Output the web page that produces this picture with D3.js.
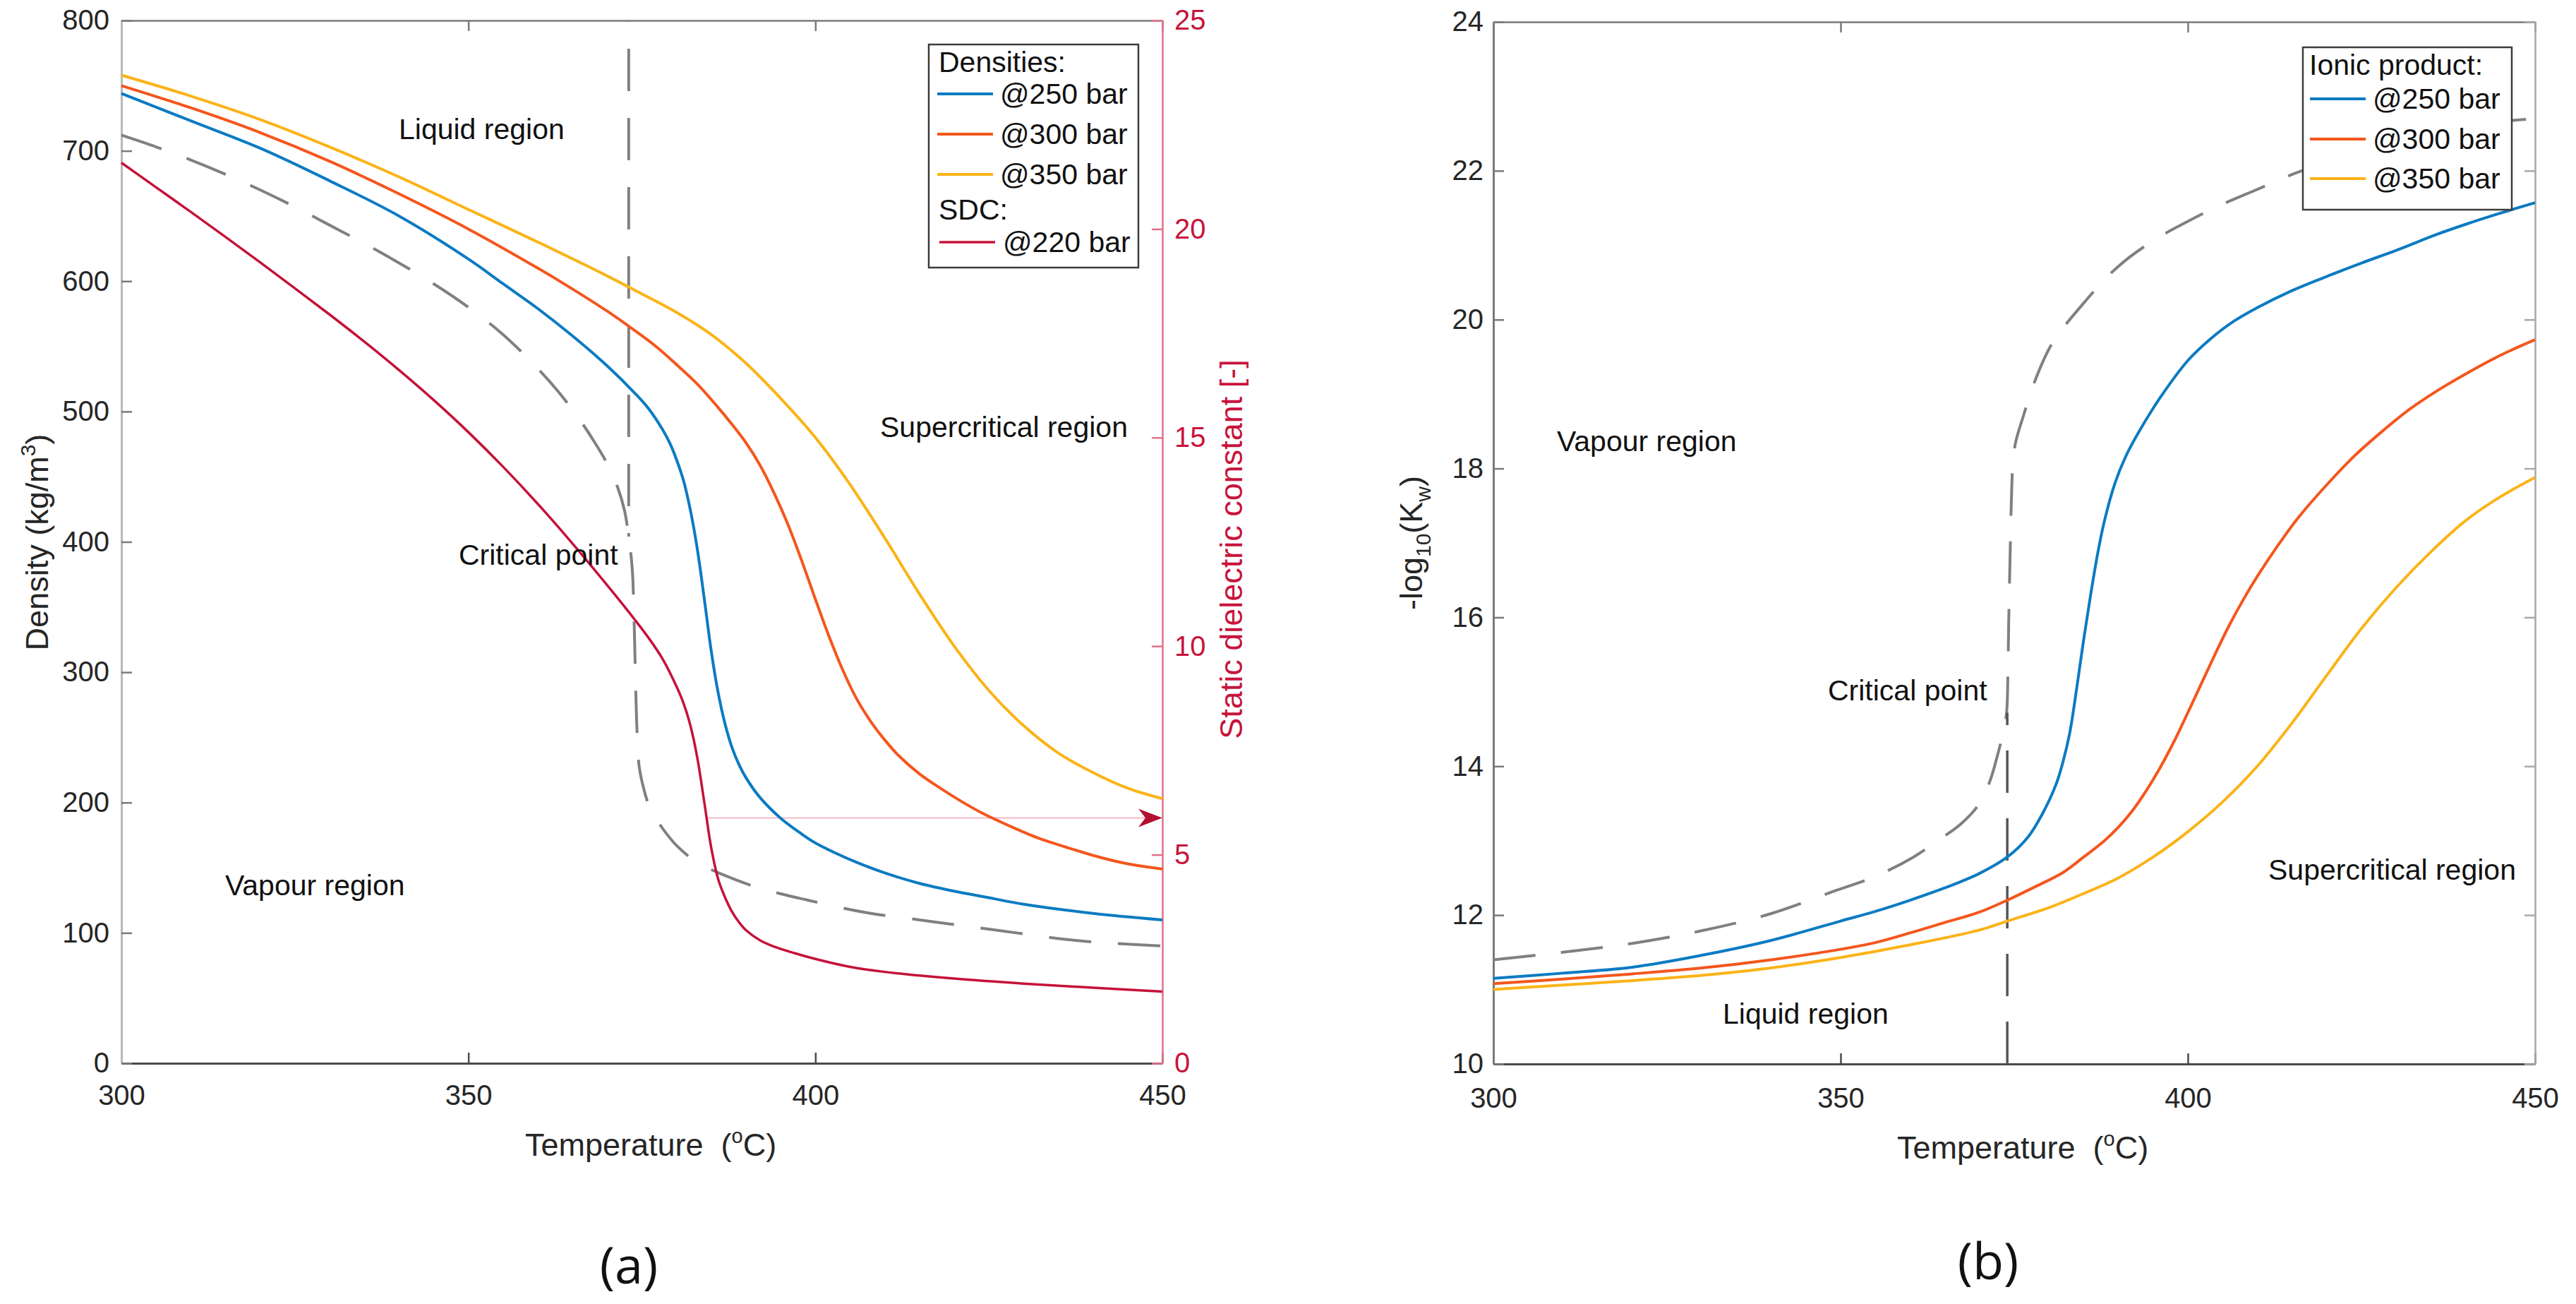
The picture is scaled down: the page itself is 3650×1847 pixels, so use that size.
<!DOCTYPE html>
<html><head><meta charset="utf-8">
<script src="https://cdn.jsdelivr.net/npm/d3@7/dist/d3.min.js"></script>
<style>
body{margin:0;background:#fff}
svg{display:block}
text{font-family:"Liberation Sans",Arial,Helvetica,sans-serif}
</style>
</head><body>
<svg id="c" width="3650" height="1847"></svg>
<script>
// ---------------- DATA ----------------
const tempTicks = [300, 350, 400, 450];
const densityTicks = [0, 100, 200, 300, 400, 500, 600, 700, 800];
const sdcTicks = [0, 5, 10, 15, 20, 25];
const pkwTicks = [10, 12, 14, 16, 18, 20, 22, 24];

// (a) densities [T (°C), rho (kg/m3)]
const density250 = [[300,744],[310,723],[320,702],[330,677],[340,650],[350,617],[355,598],[360,579],[365,558],[370,535],[374,514],[376,502],[378,486],[379,476],[380,463],[381,447],[382,424],[383,394],[384,356],[385,316],[386,284],[387,260],[388,242],[389,229],[390,219],[392,204],[395,188],[398,176],[400,169],[403,161],[406,154],[410,146],[415,138],[420,132],[425,127],[430,122],[440,115],[450,110]];
const density300 = [[300,750],[310,733],[320,714],[330,692],[340,667],[350,640],[360,610],[365,594],[370,577],[374,562],[377,550],[380,536],[383,521],[386,503],[388,490],[390,476],[392,459],[394,438],[396,414],[398,386],[400,356],[402,327],[404,301],[406,279],[408,262],[410,248],[412,236],[415,222],[418,211],[421,201],[424,192],[428,182],[432,173],[436,166],[441,158],[445,153],[450,149]];
const density350 = [[300,758],[310,742],[320,724],[330,703],[340,680],[350,655],[360,630],[370,604],[374,593],[380,576],[385,559],[390,537],[395,510],[400,480],[405,444],[410,403],[415,360],[420,320],[425,286],[430,259],[435,238],[440,223],[445,211],[450,203]];
const densityCritical = [[300,712],[305,703],[310,693],[315,682],[320,670],[325,657],[330,643],[335,629],[340,614],[345,598],[350,580],[355,559],[360,533],[363,515],[366,494],[368,478],[370,460],[371.5,442],[372.5,424],[373.1,404],[373.6,380],[373.9,335],[374.1,290],[374.3,255],[374.6,228],[375.2,212],[376,198],[377,188],[378,180],[380,167],[383,154],[387,144],[391,136],[395,130],[399,125],[404,119],[408,115],[415,110],[422,105],[429,100],[436,95],[443,92],[450,90]];
// (a) static dielectric constant @220 bar [T, SDC]
const sdc220 = [[300,21.59],[305,21.0],[310,20.41],[315,19.81],[320,19.2],[325,18.58],[330,17.95],[335,17.3],[340,16.62],[345,15.9],[350,15.13],[355,14.3],[360,13.41],[365,12.46],[370,11.46],[374,10.63],[376,10.19],[378,9.69],[380,9.03],[381,8.63],[382,8.09],[383,7.31],[384,6.25],[385,5.16],[386,4.41],[387,3.97],[388,3.63],[389,3.38],[390,3.19],[392,2.95],[394,2.8],[397,2.64],[400,2.5],[405,2.31],[410,2.19],[420,2.03],[430,1.91],[440,1.81],[450,1.72]];
const criticalTempA = 373.1;
const criticalLineA = [800, 404];       // density span of the vertical critical line
const arrowSDC = 5.88;                  // arrow level (SDC axis)
const arrowStartT = 384.35;

// (b) ionic product [T, -log10(Kw)]
const pkw250 = [[300,11.15],[310,11.22],[320,11.3],[330,11.46],[340,11.66],[350,11.92],[355,12.05],[360,12.2],[366,12.4],[370,12.56],[374,12.78],[377,13.05],[379,13.35],[381,13.75],[382,14.05],[383,14.45],[384,15.05],[385,15.7],[386,16.3],[387,16.85],[388,17.3],[389.5,17.8],[391,18.15],[393,18.5],[396,18.95],[400,19.45],[403,19.72],[406,19.94],[410,20.16],[415,20.39],[420,20.58],[425,20.76],[430,20.93],[436,21.15],[440,21.28],[445,21.43],[450,21.57]];
const pkw300 = [[300,11.08],[310,11.14],[320,11.21],[330,11.29],[340,11.4],[350,11.54],[355,11.63],[360,11.76],[365,11.9],[370,12.04],[374,12.2],[378,12.38],[382,12.57],[385,12.78],[388,13.0],[390,13.18],[392,13.4],[394,13.67],[396,13.98],[398,14.33],[400,14.72],[402,15.12],[404,15.52],[406,15.9],[408,16.24],[410,16.55],[413,16.97],[416,17.35],[420,17.78],[424,18.17],[428,18.5],[432,18.8],[436,19.05],[440,19.27],[445,19.52],[450,19.73]];
const pkw350 = [[300,11.0],[310,11.06],[320,11.12],[330,11.19],[340,11.29],[350,11.43],[360,11.6],[370,11.8],[374,11.92],[380,12.1],[385,12.29],[390,12.5],[395,12.78],[400,13.12],[405,13.52],[410,14.0],[415,14.58],[420,15.22],[425,15.85],[430,16.4],[435,16.88],[440,17.3],[445,17.62],[450,17.88]];
const pkwCritical = [[300,11.4],[310,11.5],[320,11.62],[330,11.79],[340,12.02],[349,12.32],[355,12.52],[360.5,12.78],[364,13.0],[367.5,13.24],[370,13.5],[371.5,13.8],[372.6,14.15],[373.4,14.45],[373.9,14.72],[374.1,15.3],[374.2,15.9],[374.4,16.8],[374.6,17.6],[374.8,18.05],[375.2,18.35],[376.3,18.7],[378,19.18],[380.4,19.67],[384.8,20.2],[389.8,20.7],[395,21.06],[400,21.32],[405,21.55],[410,21.75],[415,21.95],[420,22.12],[425,22.3],[430,22.42],[435,22.52],[440,22.6],[445,22.66],[450,22.7]];
const criticalTempB = 374.0;
const criticalLineB = [10, 14.72];

const legendA = ["@250 bar", "@300 bar", "@350 bar"];
const legendA2 = ["@220 bar"];
const legendB = ["@250 bar", "@300 bar", "@350 bar"];

// ---------------- STYLE ----------------
const C = {blue:"#0b7bc2", orange:"#f4561d", yellow:"#fbb317", red:"#c5123a", grey:"#808080",
           axis:"#7a7a7a", axisDark:"#4a4a4a", text:"#262626", redAxis:"#e07188", redText:"#c8143c"};

const svg = d3.select("#c");
svg.append("rect").attr("width",3650).attr("height",1847).attr("fill","#fff");

function styleAxis(g, col, tcol, w){
  g.selectAll(".domain").attr("stroke", col).attr("stroke-width", w);
  g.selectAll(".tick line").attr("stroke", col).attr("stroke-width", 2.5);
  g.selectAll(".tick text").attr("fill", tcol).style("font-size","40px")
   .style("font-family",'"Liberation Sans",Arial,sans-serif');
  g.attr("font-family", null).attr("font-size", null);
}
function lineGen(x, y){ return d3.line().x(d=>x(d[0])).y(d=>y(d[1])).curve(d3.curveCatmullRom.alpha(0.5)); }
function addText(t, x, y, size, opts={}){
  return svg.append("text").attr("x",x).attr("y",y).attr("font-size",size)
    .attr("fill", opts.fill||"#111").attr("dominant-baseline", opts.db||"central")
    .attr("text-anchor", opts.anchor||"start").text(t);
}

// ================= PANEL (a) =================
const xA = d3.scaleLinear().domain([300,450]).range([172,1647]);
const yA = d3.scaleLinear().domain([0,800]).range([1506,29]);
const yA2 = d3.scaleLinear().domain([0,25]).range([1506,29]);

let g;
g = svg.append("g").attr("transform","translate(0,1506)")
  .call(d3.axisBottom(xA).tickValues(tempTicks).tickSize(-15).tickSizeOuter(0).tickPadding(31).tickFormat(d3.format("d")));
styleAxis(g, C.axisDark, C.text, 3);
g = svg.append("g").attr("transform","translate(0,29)")
  .call(d3.axisTop(xA).tickValues(tempTicks).tickSize(-15).tickSizeOuter(0).tickFormat(""));
styleAxis(g, C.axis, C.text, 2.5);
g = svg.append("g").attr("transform","translate(172,0)")
  .call(d3.axisLeft(yA).tickValues(densityTicks).tickSize(-15).tickSizeOuter(0).tickPadding(17).tickFormat(d3.format("d")));
styleAxis(g, "#b8b8b8", C.text, 3);
g.selectAll(".tick line").attr("stroke", C.axis);
g = svg.append("g").attr("transform","translate(1647,0)")
  .call(d3.axisRight(yA2).tickValues(sdcTicks).tickSize(-15).tickSizeOuter(0).tickPadding(17).tickFormat(d3.format("d")));
styleAxis(g, C.redAxis, C.redText, 2.5);

const lA = lineGen(xA, yA);
svg.append("path").datum(densityCritical).attr("d", lA).attr("fill","none")
  .attr("stroke", C.grey).attr("stroke-width",4).attr("stroke-dasharray","60,38");
svg.append("line").attr("x1",xA(criticalTempA)).attr("x2",xA(criticalTempA))
  .attr("y1",yA(criticalLineA[0])).attr("y2",yA(criticalLineA[1]))
  .attr("stroke", C.grey).attr("stroke-width",4).attr("stroke-dasharray","60,38").attr("stroke-dashoffset",-40);
svg.append("line").attr("x1",xA(arrowStartT)).attr("x2",xA(450)-20)
  .attr("y1",yA2(arrowSDC)).attr("y2",yA2(arrowSDC)).attr("stroke","#f6b9c6").attr("stroke-width",2);
{
  const tx = xA(450), ty = yA2(arrowSDC);
  svg.append("path").attr("d",`M${tx},${ty} L${tx-34},${ty-13} L${tx-24},${ty} L${tx-34},${ty+13} Z`).attr("fill","#b3102f");
}
const seriesA = [[density250,C.blue],[density300,C.orange],[density350,C.yellow]];
seriesA.forEach(([d,c])=>{
  svg.append("path").datum(d).attr("d", lA).attr("fill","none").attr("stroke",c).attr("stroke-width",4);
});
svg.append("path").datum(sdc220).attr("d", lineGen(xA, yA2)).attr("fill","none").attr("stroke",C.red).attr("stroke-width",3.5);

addText("Liquid region", 565, 183, 41);
addText("Supercritical region", 1247, 605, 41);
addText("Critical point", 650, 786, 41);
addText("Vapour region", 319, 1254, 41);

{
  const t = svg.append("text").attr("x",922).attr("y",1637).attr("font-size",45).attr("fill",C.text)
    .attr("text-anchor","middle").style("white-space","pre");
  t.append("tspan").text("Temperature  (");
  t.append("tspan").attr("dy",-18).attr("font-size",29).text("o");
  t.append("tspan").attr("dy",18).text("C)");
  const yl = svg.append("text").attr("transform","translate(68,768) rotate(-90)").attr("font-size",45)
    .attr("fill",C.text).attr("text-anchor","middle");
  yl.append("tspan").text("Density (kg/m");
  yl.append("tspan").attr("dy",-18).attr("font-size",30).text("3");
  yl.append("tspan").attr("dy",18).text(")");
  svg.append("text").attr("transform","translate(1760,778) rotate(-90)").attr("font-size",45)
    .attr("fill",C.redText).attr("text-anchor","middle").text("Static dielectric constant [-]");
  svg.append("text").attr("x",891).attr("y",1818).attr("font-size",72).attr("fill","#111")
    .attr("text-anchor","middle").style("font-family",'"Open Sans","Liberation Sans",sans-serif').text("(a)");
}

{
  svg.append("rect").attr("x",1316).attr("y",63).attr("width",297).attr("height",316)
    .attr("fill","#fff").attr("stroke","#3c3c3c").attr("stroke-width",2.5);
  addText("Densities:", 1330, 88, 41);
  const rows = [133,190,247];
  legendA.forEach((lab,i)=>{
    svg.append("line").attr("x1",1328).attr("x2",1407).attr("y1",rows[i]).attr("y2",rows[i])
      .attr("stroke",seriesA[i][1]).attr("stroke-width",4);
    addText(lab, 1417, rows[i], 41);
  });
  addText("SDC:", 1330, 297, 41);
  svg.append("line").attr("x1",1331).attr("x2",1410).attr("y1",343).attr("y2",343)
    .attr("stroke",C.red).attr("stroke-width",3.5);
  addText(legendA2[0], 1421, 343, 41);
}

// ================= PANEL (b) =================
const xB = d3.scaleLinear().domain([300,450]).range([2116,3592]);
const yB = d3.scaleLinear().domain([10,24]).range([1507,31]);

g = svg.append("g").attr("transform","translate(0,1507)")
  .call(d3.axisBottom(xB).tickValues(tempTicks).tickSize(-15).tickSizeOuter(0).tickPadding(34).tickFormat(d3.format("d")));
styleAxis(g, C.axisDark, C.text, 3);
g = svg.append("g").attr("transform","translate(0,31)")
  .call(d3.axisTop(xB).tickValues(tempTicks).tickSize(-15).tickSizeOuter(0).tickFormat(""));
styleAxis(g, C.axis, C.text, 2.5);
g = svg.append("g").attr("transform","translate(2116,0)")
  .call(d3.axisLeft(yB).tickValues(pkwTicks).tickSize(-15).tickSizeOuter(0).tickPadding(14).tickFormat(d3.format("d")));
styleAxis(g, C.axis, C.text, 3);
g = svg.append("g").attr("transform","translate(3592,0)")
  .call(d3.axisRight(yB).tickValues(pkwTicks).tickSize(-15).tickSizeOuter(0).tickFormat(""));
styleAxis(g, "#a8a8a8", C.text, 2.5);

const lB = lineGen(xB, yB);
svg.append("path").datum(pkwCritical).attr("d", lB).attr("fill","none")
  .attr("stroke", C.grey).attr("stroke-width",4).attr("stroke-dasharray","60,36");
svg.append("line").attr("x1",xB(criticalTempB)).attr("x2",xB(criticalTempB))
  .attr("y1",yB(criticalLineB[0])).attr("y2",yB(criticalLineB[1]))
  .attr("stroke", "#555").attr("stroke-width",3.5).attr("stroke-dasharray","60,36");
const seriesB = [[pkw250,C.blue],[pkw300,C.orange],[pkw350,C.yellow]];
seriesB.forEach(([d,c])=>{
  svg.append("path").datum(d).attr("d", lB).attr("fill","none").attr("stroke",c).attr("stroke-width",4);
});

addText("Vapour region", 2206, 625, 41);
addText("Critical point", 2590, 978, 41);
addText("Supercritical region", 3214, 1232, 41);
addText("Liquid region", 2441, 1436, 41);

{
  const t = svg.append("text").attr("x",2866).attr("y",1641).attr("font-size",45).attr("fill",C.text)
    .attr("text-anchor","middle").style("white-space","pre");
  t.append("tspan").text("Temperature  (");
  t.append("tspan").attr("dy",-18).attr("font-size",29).text("o");
  t.append("tspan").attr("dy",18).text("C)");
  const yl = svg.append("text").attr("transform","translate(2015,769) rotate(-90)").attr("font-size",45)
    .attr("fill",C.text).attr("text-anchor","middle");
  yl.append("tspan").text("-log");
  yl.append("tspan").attr("dy",12).attr("font-size",30).text("10");
  yl.append("tspan").attr("dy",-12).text("(K");
  yl.append("tspan").attr("dy",12).attr("font-size",30).text("w");
  yl.append("tspan").attr("dy",-12).text(")");
  svg.append("text").attr("x",2817).attr("y",1812).attr("font-size",72).attr("fill","#111")
    .attr("text-anchor","middle").style("font-family",'"Open Sans","Liberation Sans",sans-serif').text("(b)");
}

{
  svg.append("rect").attr("x",3263).attr("y",67).attr("width",296).attr("height",230)
    .attr("fill","#fff").attr("stroke","#3c3c3c").attr("stroke-width",2.5);
  addText("Ionic product:", 3272, 92, 41);
  const rows = [140,197,253];
  legendB.forEach((lab,i)=>{
    svg.append("line").attr("x1",3273).attr("x2",3352).attr("y1",rows[i]).attr("y2",rows[i])
      .attr("stroke",seriesB[i][1]).attr("stroke-width",4);
    addText(lab, 3362, rows[i], 41);
  });
}
</script>
</body></html>
